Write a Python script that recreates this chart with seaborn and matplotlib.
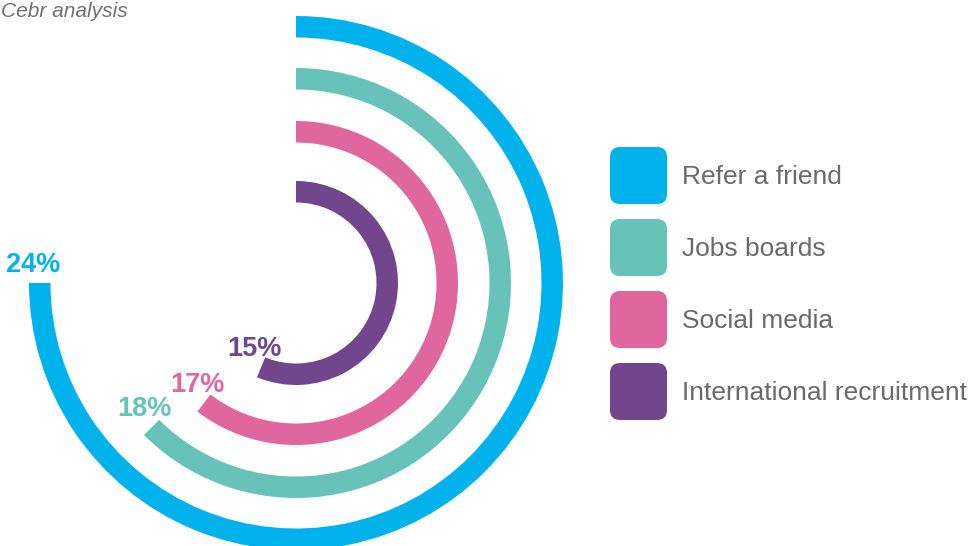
import numpy as np
import matplotlib
matplotlib.use("Agg")
import matplotlib.pyplot as plt
from matplotlib.patches import FancyBboxPatch
import seaborn as sns

# Recruitment channels and their shares (%)
channels = ["Refer a friend", "Jobs boards", "Social media", "International recruitment"]
shares = [24, 18, 17, 15]
colors = ["#00B2EB", "#67C3BA", "#E0679D", "#72468C"]
source_note = "Cebr analysis"

# Angular scale of the rings: a sweep of (share + offset) / full_scale of a circle
scale_offset = 12
full_scale = 48

sns.set_theme(style="white")
plt.rcParams["font.family"] = ["Liberation Sans", "DejaVu Sans"]

W, H = 977, 546
fig = plt.figure(figsize=(W / 100, H / 100), dpi=100)

# Overlay axes in pixel units for the legend and the note
ov = fig.add_axes([0, 0, 1, 1])
ov.set_xlim(0, W)
ov.set_ylim(H, 0)
ov.set_axis_off()

# Polar axes sized so one radial unit equals one pixel
cx, cy, rmax = 296, 283, 280
pax = fig.add_axes([(cx - rmax) / W, (H - cy - rmax) / H, 2 * rmax / W, 2 * rmax / H],
                   projection="polar")
pax.set_theta_zero_location("N")
pax.set_theta_direction(-1)
pax.set_ylim(0, rmax)
pax.set_axis_off()

outer_radii = [267, 215, 162, 102]
band = 21.5

for name, val, col, r_out in zip(channels, shares, colors, outer_radii):
    sweep = 2 * np.pi * (val + scale_offset) / full_scale
    r_in = r_out - band
    pax.bar(0, band, width=sweep, bottom=r_in, align="edge", color=col,
            linewidth=0, antialiased=True)
    r_mid = r_in + band / 2
    # value label sits just above and left of the arc's end
    pax.annotate(f"{val}%", xy=(sweep, r_mid), xytext=(-5, 13), textcoords="offset points",
                 color=col, fontsize=19.5, fontweight="bold", ha="center", va="center")

# Legend with rounded swatches
sw_x, sw_size, y0, step = 610, 57, 147, 72
for i, (name, col) in enumerate(zip(channels, colors)):
    y = y0 + i * step
    ov.add_patch(FancyBboxPatch((sw_x + 10, y + 10), sw_size - 20, sw_size - 20,
                                boxstyle="round,pad=10", facecolor=col, edgecolor="none"))
    ov.text(682, y + sw_size / 2 + 1, name, color="#6a6a6a", fontsize=19,
            ha="left", va="center", fontweight="light")

ov.text(1, 17, source_note, color="#707070", fontsize=15, fontstyle="italic",
        ha="left", va="baseline")

fig.savefig("out.png", dpi=100, facecolor="white")
